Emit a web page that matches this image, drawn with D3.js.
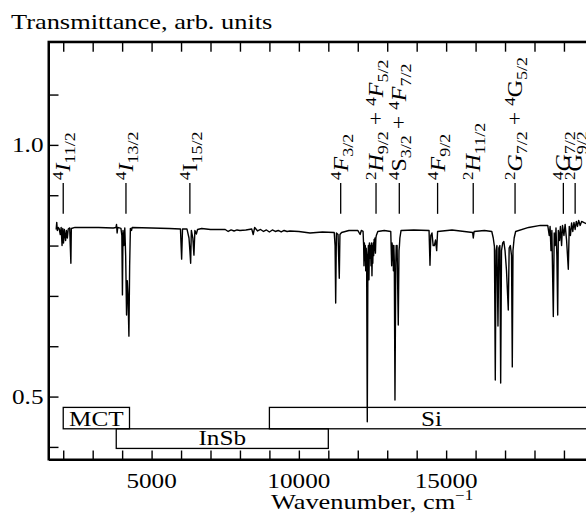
<!DOCTYPE html>
<html>
<head>
<meta charset="utf-8">
<script src="https://cdn.jsdelivr.net/npm/d3@7"></script>
<style>
body { margin: 0; background: #fff; }
svg text { font-family: "Liberation Serif", "Times New Roman", serif; fill: #000; }
</style>
</head>
<body>
<svg width="586" height="522"></svg>
<script>

// spectrum (wavenumber in cm-1, transmittance)
var specWn = [1760, 1780, 1800, 1830, 1860, 1900, 1930, 1960, 1985, 2010, 2040, 2080, 2110, 2140, 2170, 2220, 2245, 2260, 2275,
    2400, 2700, 3200, 3700, 3790, 3810, 3830, 3850, 3960, 3990, 4010, 4030, 4060, 4090, 4120, 4150, 4175, 4200, 4230, 4255, 4280, 4320, 4340,
    5000, 5600, 5980, 6020, 6050, 6200, 6270, 6300, 6326, 6350, 6400, 6438, 6470, 6520, 6560, 6700, 7000,
    7500, 7600, 7700, 7800, 7900, 8000, 8200, 8400, 8450, 8500, 8600, 8700, 8800, 8900, 9000, 9100, 9200, 9300, 9400, 9500, 9600, 9700,
    10000, 10380, 10800, 11200, 11230, 11250, 11275, 11330, 11350, 11372, 11395, 11450, 11700, 12000, 12080, 12120, 12180,
    12200, 12211, 12225, 12240, 12255, 12270, 12285, 12300, 12323, 12345, 12360, 12380, 12395, 12410, 12430, 12450, 12465, 12482, 12500,
    12510, 12525, 12540, 12555, 12570, 12585, 12600, 12615, 12630, 12680,
    12900, 13120, 13151, 13165, 13180, 13195, 13210, 13225, 13240, 13263, 13290, 13305, 13320, 13335, 13350, 13375, 13400, 13415, 13430, 13470,
    13900, 14420, 14452, 14480, 14520, 14560, 14600, 14640, 14679, 14710, 15200, 15900, 15922, 15950, 16300,
    16550, 16600, 16640, 16669, 16695, 16725, 16760, 16790, 16825, 16852, 16880, 16920, 16960, 17000, 17050, 17110, 17140,
    17180, 17220, 17246, 17270, 17310, 17360, 17800, 18200, 18450, 18500, 18530, 18560, 18590, 18639, 18670, 18700, 18730,
    18760, 18788, 18810, 18850, 18880, 18920, 18950, 19000, 19040, 19090, 19148, 19180, 19220, 19260, 19300, 19340, 19380,
    19420, 19460, 19500, 19550, 19600, 19700, 19800];
var specT = [0.832, 0.846, 0.830, 0.836, 0.834, 0.822, 0.836, 0.800, 0.834, 0.805, 0.832, 0.810, 0.830, 0.815, 0.833, 0.835, 0.790, 0.765, 0.834,
    0.836, 0.836, 0.836, 0.835, 0.836, 0.842, 0.825, 0.836, 0.834, 0.820, 0.702, 0.830, 0.800, 0.835, 0.780, 0.662, 0.730, 0.700, 0.620, 0.760, 0.834, 0.830, 0.836,
    0.835, 0.834, 0.833, 0.773, 0.833, 0.833, 0.815, 0.790, 0.765, 0.830, 0.815, 0.781, 0.830, 0.823, 0.832, 0.834, 0.832,
    0.832, 0.828, 0.831, 0.829, 0.831, 0.830, 0.831, 0.833, 0.822, 0.836, 0.829, 0.832, 0.828, 0.831, 0.827, 0.831, 0.828, 0.830, 0.827, 0.830, 0.828, 0.829,
    0.828, 0.825, 0.827, 0.826, 0.800, 0.686, 0.825, 0.822, 0.780, 0.735, 0.822, 0.826, 0.830, 0.830, 0.822, 0.830, 0.828,
    0.800, 0.760, 0.805, 0.770, 0.800, 0.750, 0.795, 0.780, 0.450, 0.780, 0.800, 0.732, 0.805, 0.775, 0.800, 0.760, 0.805, 0.740, 0.800,
    0.765, 0.805, 0.780, 0.812, 0.790, 0.815, 0.785, 0.815, 0.820, 0.828,
    0.830, 0.828, 0.760, 0.805, 0.770, 0.800, 0.750, 0.800, 0.770, 0.493, 0.760, 0.800, 0.770, 0.800, 0.740, 0.642, 0.790, 0.800, 0.815, 0.830,
    0.831, 0.830, 0.761, 0.820, 0.825, 0.800, 0.800, 0.811, 0.790, 0.828, 0.831, 0.826, 0.815, 0.828, 0.830,
    0.828, 0.815, 0.798, 0.533, 0.790, 0.800, 0.640, 0.795, 0.800, 0.527, 0.790, 0.805, 0.808, 0.790, 0.750, 0.672, 0.795,
    0.800, 0.780, 0.559, 0.790, 0.815, 0.828, 0.836, 0.840, 0.840, 0.820, 0.838, 0.790, 0.830, 0.659, 0.825, 0.800, 0.835,
    0.780, 0.662, 0.830, 0.810, 0.838, 0.800, 0.840, 0.820, 0.842, 0.810, 0.753, 0.838, 0.820, 0.845, 0.828, 0.846, 0.832,
    0.848, 0.838, 0.850, 0.840, 0.848, 0.845, 0.843];

// level assignments: wavenumber of marker and term list [sup, letter, sub, italic]
var lineWn = [2000, 4130, 6300, 11420, 12620, 13410, 14710, 15920, 17340, 18980, 19380];
var lineTerms = [
    [["4", "I", "11/2", true]],
    [["4", "I", "13/2", true]],
    [["4", "I", "15/2", false]],
    [["4", "F", "3/2", true]],
    [["2", "H", "9/2", true], ["4", "F", "5/2", true]],
    [["4", "S", "3/2", false], ["4", "F", "7/2", true]],
    [["4", "F", "9/2", true]],
    [["2", "H", "11/2", true]],
    [["2", "G", "7/2", true], ["4", "G", "5/2", false]],
    [["4", "G", "7/2", true]],
    [["2", "G", "9/2", false]]
];

// detector ranges
var bandName = ["MCT", "InSb", "Si"];
var bandFrom = [2000, 3800, 9000];
var bandTo = [4250, 11000, 20000];
var bandRow = [0, 1, 0];

var xTicks = [2000, 3000, 4000, 5000, 6000, 7000, 8000, 9000, 10000, 11000, 12000, 13000, 14000, 15000, 16000, 17000, 18000, 19000, 20000];
var xTickLabels = [5000, 10000, 15000];
var yTicks = [0.4, 0.5, 0.6, 0.7, 0.8, 0.9, 1.0, 1.1];
var yTickLabels = [0.5, 1.0];

var svg = d3.select("svg"),
    sx = 1.2; // the original lettering is wider than Times

var x = d3.scaleLinear().domain([1500, 20000]).range([48.5, 593.4]),
    y = d3.scaleLinear().domain([0.375, 1.205]).range([459.5, 41.7]);

var bandLevels = [0.4785, 0.436, 0.397];
var markTop = 0.9245, markBottom = 0.863;

function wide(sel, px, py, rot) {
    return sel.attr("transform", "translate(" + px + "," + py + ") rotate(" + (rot || 0) + ") scale(" + sx + ",1)");
}

// ticks (inward)
svg.append("g")
    .attr("transform", "translate(0," + y.range()[0] + ")")
    .call(d3.axisBottom(x).tickValues(xTicks).tickSize(-9).tickSizeOuter(0).tickFormat(""));
svg.append("g")
    .attr("transform", "translate(0," + y.range()[1] + ")")
    .call(d3.axisTop(x).tickValues(xTicks).tickSize(-10).tickSizeOuter(0).tickFormat(""));
svg.append("g")
    .attr("transform", "translate(" + x.range()[0] + ",0)")
    .call(d3.axisLeft(y).tickValues(yTicks).tickSize(-10).tickSizeOuter(0).tickFormat(""));

svg.selectAll(".tick line").attr("stroke", "#000").attr("stroke-width", 1.4);
svg.selectAll(".domain").attr("stroke", "#000").attr("stroke-width", 2);

svg.append("rect")
    .attr("x", x.range()[0]).attr("y", y.range()[1])
    .attr("width", x.range()[1] - x.range()[0])
    .attr("height", y.range()[0] - y.range()[1])
    .attr("fill", "none").attr("stroke", "#000").attr("stroke-width", 2);

// tick labels
xTickLabels.forEach(function(d) {
    wide(svg.append("text"), x(d), 488, 0)
        .attr("text-anchor", "middle").style("font-size", "21px").text(d);
});
yTickLabels.forEach(function(d) {
    wide(svg.append("text"), 43.5, y(d) + 7, 0)
        .attr("text-anchor", "end").style("font-size", "21px").text(d.toFixed(1));
});

wide(svg.append("text"), 11, 29, 0).style("font-size", "22px").text("Transmittance, arb. units");

var xt = wide(svg.append("text"), 372, 509, 0).attr("text-anchor", "middle").style("font-size", "22px");
xt.append("tspan").text("Wavenumber, cm");
xt.append("tspan").attr("dy", -9).style("font-size", "14px").text("\u22121");

// detector boxes
var bands = svg.append("g");
bandName.forEach(function(name, i) {
    var top = y(bandLevels[bandRow[i]]), bot = y(bandLevels[bandRow[i] + 1]);
    var x0 = x(bandFrom[i]), x1 = x(bandTo[i]);
    bands.append("rect")
        .attr("x", x0).attr("y", top).attr("width", x1 - x0).attr("height", bot - top)
        .attr("fill", "none").attr("stroke", "#000").attr("stroke-width", 1.3);
    wide(bands.append("text"), (x0 + x1) / 2, bot - 3, 0)
        .attr("text-anchor", "middle").style("font-size", "21px").text(name);
});

// spectrum
var spec = specWn.map(function(d, i) { return {wn: d, t: specT[i]}; });

svg.append("defs").append("clipPath").attr("id", "clip")
    .append("rect")
    .attr("x", x.range()[0]).attr("y", y.range()[1])
    .attr("width", x.range()[1] - x.range()[0])
    .attr("height", y.range()[0] - y.range()[1]);

svg.append("path")
    .datum(spec)
    .attr("clip-path", "url(#clip)")
    .attr("fill", "none")
    .attr("stroke", "#000")
    .attr("stroke-width", 1.4)
    .attr("stroke-linejoin", "round")
    .attr("d", d3.line()
        .x(function(d) { return x(d.wn); })
        .y(function(d) { return y(d.t); }));

// level markers and their rotated labels
var marks = svg.append("g");
lineWn.forEach(function(wn, i) {
    marks.append("line")
        .attr("x1", x(wn)).attr("x2", x(wn))
        .attr("y1", y(markTop)).attr("y2", y(markBottom))
        .attr("stroke", "#000").attr("stroke-width", 1.3);

    var t = wide(marks.append("text"), x(wn) + 7, y(markTop) - 3, -90).style("font-size", "20px");
    var shift = 0;
    lineTerms[i].forEach(function(term, j) {
        if (j > 0) {
            t.append("tspan").attr("dy", -shift).style("font-size", "20px").text(" + ");
            shift = 0;
        }
        t.append("tspan").attr("dy", -7 - shift).style("font-size", "14px").text(term[0]);
        t.append("tspan").attr("dy", 7).style("font-size", "20px")
            .style("font-style", term[3] ? "italic" : "normal").text(term[1]);
        t.append("tspan").attr("dy", 5).style("font-size", "15px").text(term[2]);
        shift = 5;
    });
});

</script>
</body>
</html>
